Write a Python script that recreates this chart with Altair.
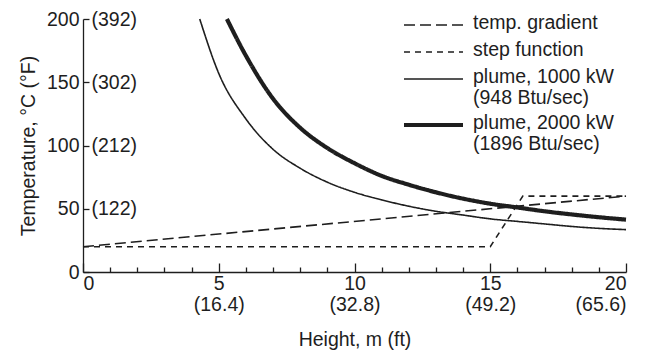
import altair as alt
import pandas as pd

# ---- data ----
grad_x = [0, 20]
grad_y = [20, 60]
step_x = [0, 15, 16.2, 20]
step_y = [20, 20, 60, 60]
p1000_x = [4.3, 5, 6, 7, 8, 9, 10, 11, 12, 13, 14, 15, 16, 17, 18, 19, 20]
p1000_y = [200, 157, 121, 97, 82, 71, 63, 57, 52, 48, 45, 42, 40, 38, 36, 34.5, 33.5]
p2000_x = [5.3, 6, 7, 8, 9, 10, 11, 12, 13, 14, 15, 16, 17, 18, 19, 20]
p2000_y = [200, 171, 137, 114, 98, 86, 76, 69, 63, 58, 54, 51, 48, 45.5, 43.3, 41.4]

x_major = [0, 5, 10, 15, 20]
x_ft = ["", "(16.4)", "(32.8)", "(49.2)", "(65.6)"]
x_minor = list(range(0, 21))
y_major = [0, 50, 100, 150, 200]
y_f = ["", "(122)", "(212)", "(302)", "(392)"]

legend_labels = ["temp. gradient", "step function",
                 "plume, 1000 kW\n(948 Btu/sec)", "plume, 2000 kW\n(1896 Btu/sec)"]

# ---- styling ----
W, H = 543, 253
INK = "#1e1e1e"
FONT = "Liberation Sans"
FS = 19.5
styles = [
    dict(strokeDash=[11, 5], strokeWidth=1.6),
    dict(strokeDash=[6, 5], strokeWidth=1.6),
    dict(strokeDash=[1, 0], strokeWidth=1.6),
    dict(strokeDash=[1, 0], strokeWidth=4.2),
]

xs = alt.Scale(domain=[0, 20], nice=False)
ys = alt.Scale(domain=[0, 200], nice=False)

def df(xv, yv):
    return pd.DataFrame({"x": xv, "y": yv})

x_label_expr = " : ".join(
    f"datum.value === {v} ? ['{v}', '{f}']" for v, f in zip(x_major, x_ft)
) + " : ''"
y_right_expr = " : ".join(
    f"datum.value === {v} ? '{f}'" for v, f in zip(y_major, y_f)
) + " : ''"

# layer with bottom / left axes (labels)
gradient = alt.Chart(df(grad_x, grad_y)).mark_line(color=INK, **styles[0]).encode(
    x=alt.X("x:Q", scale=xs, title="Height, m (ft)",
            axis=alt.Axis(orient="bottom", values=x_major, ticks=False,
                          labelExpr=x_label_expr, labelPadding=2, labelLineHeight=21,
                          titlePadding=17, grid=False)),
    y=alt.Y("y:Q", scale=ys, title="Temperature, °C (°F)",
            axis=alt.Axis(orient="left", values=y_major, ticks=False,
                          labelPadding=4, titlePadding=8, grid=False)),
)

# layer carrying inward tick axes
step = alt.Chart(df(step_x, step_y)).mark_line(color=INK, **styles[1]).encode(
    x=alt.X("x:Q", scale=xs, title="",
            axis=alt.Axis(orient="top", offset=-H, values=x_minor, labels=False,
                          domain=False, grid=False,
                          tickSize={"condition": {"test": "datum.value % 5 === 0", "value": 9},
                                    "value": 5})),
    y=alt.Y("y:Q", scale=ys, title="",
            axis=alt.Axis(orient="right", offset=-W, values=y_major, domain=False,
                          grid=False, tickSize=6, labelPadding=2,
                          labelExpr=y_right_expr)),
)

plume1 = alt.Chart(df(p1000_x, p1000_y)).mark_line(color=INK, interpolate="monotone", **styles[2]).encode(
    x=alt.X("x:Q", scale=xs, axis=None), y=alt.Y("y:Q", scale=ys, axis=None))
plume2 = alt.Chart(df(p2000_x, p2000_y)).mark_line(color=INK, interpolate="monotone", **styles[3]).encode(
    x=alt.X("x:Q", scale=xs, axis=None), y=alt.Y("y:Q", scale=ys, axis=None))

# manual legend (pixel layout within the plot area)
LX1, LX2, TX = 321, 380, 390
row_y = [6, 33, 60, 106]
legend_layers = []
for lab, st, ry in zip(legend_labels, styles, row_y):
    legend_layers.append(
        alt.Chart(pd.DataFrame({"label": [lab]})).mark_rule(color=INK, **st).encode(
            x=alt.value(LX1), x2=alt.value(LX2), y=alt.value(ry)))
    legend_layers.append(
        alt.Chart(pd.DataFrame({"label": [lab]})).mark_text(
            align="left", baseline="top", font=FONT, fontSize=FS, color=INK,
            lineBreak="\n", lineHeight=21, dy=-11).encode(
            x=alt.value(TX), y=alt.value(ry), text="label:N"))

chart = alt.layer(gradient, step, plume1, plume2, *legend_layers).resolve_axis(
    x="independent", y="independent"
).properties(
    width=W, height=H, autosize="none",
    padding={"left": 75, "top": 11, "right": 29, "bottom": 80},
).configure_view(stroke=None).configure_axis(
    labelFont=FONT, labelFontSize=FS, labelColor=INK,
    titleFont=FONT, titleFontSize=FS, titleColor=INK, titleFontWeight="normal",
    domainColor=INK, domainWidth=1.3, tickColor=INK, tickWidth=1.3,
)

chart.save("out.html", embed_options={"renderer": "svg", "actions": False})
